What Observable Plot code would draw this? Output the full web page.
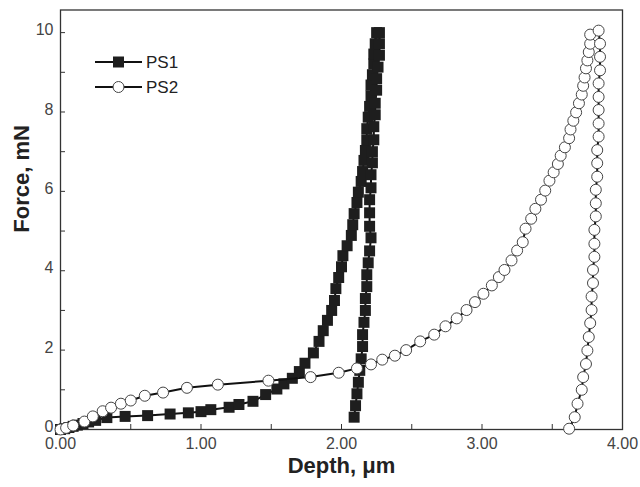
<!DOCTYPE html>
<html><head><meta charset="utf-8">
<script src="https://cdn.jsdelivr.net/npm/d3@7"></script>
<script src="https://cdn.jsdelivr.net/npm/@observablehq/plot@0.6"></script>
<style>
body{margin:0;background:#fff;}
#wrap{position:relative;width:640px;height:487px;font-family:"Liberation Sans",Arial,sans-serif;}
#legend{position:absolute;left:90px;top:48px;}
</style></head><body>
<div id="wrap"><div id="chart"></div><div id="legend"></div></div>
<script>
// PS1 (filled squares): loading then unloading
const ps1Depth = [0,0.03,0.06,0.09,0.12,0.16,0.2,0.25,0.33,0.46,0.62,0.78,0.91,1.0,1.07,1.2,1.27,1.37,1.46,1.54,1.59,1.65,1.7,1.74,1.8,1.84,1.87,1.9,1.93,1.95,1.96,1.98,2.0,2.01,2.04,2.07,2.08,2.09,2.11,2.12,2.14,2.15,2.16,2.17,2.18,2.18,2.19,2.2,2.21,2.21,2.22,2.23,2.23,2.24,2.25,
  2.27,2.27,2.27,2.26,2.25,2.25,2.24,2.24,2.23,2.23,2.22,2.22,2.21,2.21,2.2,2.2,2.2,2.21,2.2,2.19,2.18,2.18,2.17,2.17,2.16,2.15,2.15,2.14,2.13,2.12,2.11,2.1,2.09];
const ps1Force = [0,0.02,0.05,0.08,0.11,0.15,0.19,0.23,0.3,0.33,0.35,0.39,0.42,0.45,0.5,0.56,0.63,0.71,0.88,1.02,1.15,1.29,1.46,1.67,1.93,2.22,2.49,2.75,3.0,3.25,3.55,3.83,4.1,4.38,4.63,4.89,5.16,5.44,5.72,5.98,6.25,6.5,6.78,7.03,7.3,7.58,7.87,8.14,8.41,8.68,8.94,9.21,9.46,9.72,10.0,
  10.0,9.72,9.43,9.13,8.84,8.55,8.22,7.93,7.63,7.3,7.0,6.72,6.42,6.09,5.79,5.46,5.12,4.83,4.5,4.2,3.9,3.6,3.3,3.0,2.7,2.39,2.09,1.78,1.49,1.19,0.9,0.6,0.31,0.06];
// PS2 (open circles): loading then unloading
const ps2Depth = [0,0.04,0.09,0.17,0.23,0.3,0.36,0.43,0.5,0.6,0.73,0.9,1.12,1.48,1.78,1.98,2.11,2.21,2.29,2.38,2.46,2.56,2.66,2.74,2.82,2.89,2.95,3.01,3.07,3.12,3.16,3.21,3.25,3.29,3.31,3.35,3.38,3.42,3.45,3.48,3.51,3.54,3.56,3.59,3.62,3.63,3.65,3.67,3.69,3.71,3.72,3.73,3.74,3.75,3.76,3.77,3.77,
  3.83,3.84,3.84,3.84,3.83,3.83,3.83,3.83,3.83,3.82,3.82,3.82,3.81,3.81,3.81,3.8,3.8,3.8,3.79,3.79,3.78,3.78,3.77,3.76,3.75,3.74,3.72,3.71,3.68,3.66,3.62];
const ps2Force = [0,0.04,0.1,0.2,0.33,0.46,0.55,0.65,0.73,0.85,0.93,1.05,1.13,1.23,1.32,1.43,1.54,1.64,1.76,1.86,2.0,2.22,2.39,2.6,2.8,3.01,3.21,3.42,3.63,3.84,4.02,4.26,4.51,4.72,5.06,5.31,5.56,5.79,6.02,6.27,6.48,6.69,6.9,7.11,7.34,7.56,7.78,7.99,8.22,8.44,8.66,8.87,9.1,9.3,9.51,9.72,9.95,
  10.05,9.72,9.39,9.05,8.72,8.38,8.05,7.71,7.38,7.04,6.71,6.37,6.04,5.7,5.37,5.03,4.68,4.35,4.02,3.69,3.35,3.01,2.68,2.33,1.99,1.65,1.32,1.0,0.65,0.31,0.02];

const xMajorTicks = [0,1,2,3,4];
const xMinorTicks = [0.5,1.5,2.5,3.5];
const yMajorTicks = [0,2,4,6,8,10];
const yMinorTicks = [1,3,5,7,9];
const seriesNames = ["PS1","PS2"];
const xTitle = "Depth, \u03bcm";
const yTitle = "Force, mN";

const ps1 = ps1Depth.map((d,i)=>({depth:d, force:ps1Force[i]}));
const ps2 = ps2Depth.map((d,i)=>({depth:d, force:ps2Force[i]}));

const W=640,H=487,mL=60,mR=18,mT=9.5,mB=58;
const innerW=W-mL-mR, innerH=H-mT-mB;

const chart = Plot.plot({
  width:W,height:H,marginLeft:mL,marginRight:mR,marginTop:mT,marginBottom:mB,
  style:{fontFamily:"'Liberation Sans', Arial, sans-serif",background:"white"},
  x:{domain:[0,4]},
  y:{domain:[0,10.57]},
  marks:[
    Plot.frame({stroke:"#333",strokeWidth:1.3}),
    Plot.tickX(xMajorTicks.concat(xMinorTicks),{x:d=>d,insetTop:innerH-5,stroke:"#333"}),
    Plot.tickY(yMajorTicks.concat(yMinorTicks),{y:d=>d,insetRight:innerW-5,stroke:"#333"}),
    Plot.axisX({ticks:xMajorTicks,tickFormat:d=>d.toFixed(2),tickSize:0,tickPadding:8,fontSize:16,fill:"#444",label:null}),
    Plot.axisY({ticks:yMajorTicks,tickFormat:d=>String(d),tickSize:0,tickPadding:7,dy:-2.5,fontSize:16,fill:"#444",label:null}),
    Plot.text([xTitle],{frameAnchor:"bottom",dy:43,fontSize:22,fontWeight:"bold",fill:"#222"}),
    Plot.text([yTitle],{frameAnchor:"left",dx:-39,dy:13,rotate:-90,fontSize:22,fontWeight:"bold",fill:"#222"}),
    Plot.line(ps1,{x:"depth",y:"force",stroke:"#111",strokeWidth:2}),
    Plot.dot(ps1,{x:"depth",y:"force",symbol:"square",r:6.2,fill:"#1e1e1e",stroke:"none"}),
    Plot.line(ps2,{x:"depth",y:"force",stroke:"#111",strokeWidth:2}),
    Plot.dot(ps2,{x:"depth",y:"force",symbol:"circle",r:5.5,fill:"white",stroke:"#444",strokeWidth:1})
  ]
});
document.getElementById("chart").appendChild(chart);

// legend
const lg = d3.select("#legend").append("svg").attr("width",110).attr("height",52);
seriesNames.forEach((name,i)=>{
  const g = lg.append("g").attr("transform",`translate(0,${14+i*25})`);
  g.append("line").attr("x1",5).attr("x2",52).attr("y1",0).attr("y2",0).attr("stroke","#111").attr("stroke-width",2);
  if(i===0) g.append("rect").attr("x",23).attr("y",-5.5).attr("width",11).attr("height",11).attr("fill","#1e1e1e");
  else g.append("circle").attr("cx",28.5).attr("cy",0).attr("r",5.5).attr("fill","white").attr("stroke","#444");
  g.append("text").attr("x",56).attr("y",0).attr("dy","0.35em").attr("font-size",17).attr("fill","#222")
   .attr("font-family","'Liberation Sans', Arial, sans-serif").text(name);
});
</script>
</body></html>
